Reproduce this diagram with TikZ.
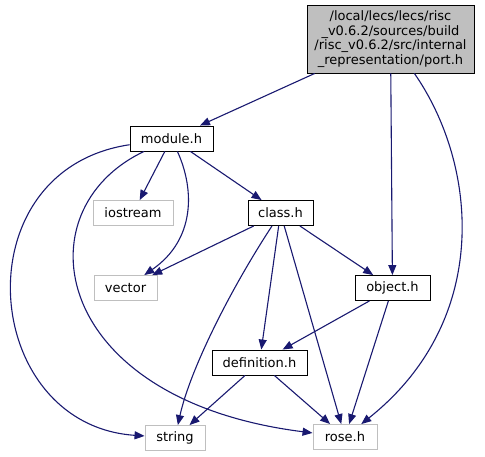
\documentclass[tikz,border=0pt]{standalone}
\usepackage{fontspec}
\setmainfont{DejaVu Sans}
\usetikzlibrary{arrows.meta}
\definecolor{edgeblue}{HTML}{191970}
\definecolor{boxgray}{HTML}{BFBFBF}

\begin{document}
\begin{tikzpicture}[x=1pt,y=-1pt,
                box/.style={draw=black,line width=0.9pt,minimum height=25pt,inner sep=1pt,font=\fontsize{13}{15}\selectfont},
                sys/.style={box,draw=boxgray},
                dep/.style={edgeblue,line width=1.1pt,-{Triangle[length=10pt,width=8pt]}}]
                \useasboundingbox (0,0) rectangle (485,456);
                \coordinate (P) at (390.5,39);
                \coordinate (M) at (171.5,138.5);
                \coordinate (C) at (280.5,213);
                \coordinate (O) at (392.5,288);
                \coordinate (D) at (259.5,362.5);
                \node[box,fill=boxgray,minimum width=167pt,minimum height=68pt,align=center,
                      font=\fontsize{13}{14.7}\selectfont] (port) at (P)
                      {/local/lecs/lecs/risc\\\_v0.6.2/sources/build\\/risc\_v0.6.2/src/internal\\\_representation/port.h};
                \node[box,minimum width=83pt] (module) at (M) {module.h};
                \node[sys,minimum width=80pt] (iostream) at (133,213) {iostream};
                \node[box,minimum width=65pt] (class) at (C) {class.h};
                \node[sys,minimum width=63pt] (vector) at (125.5,288) {vector};
                \node[box,minimum width=75pt] (object) at (O) {object.h};
                \node[box,minimum width=95pt] (definition) at (D) {definition.h};
                \node[sys,minimum width=60pt] (string) at (175,438) {string};
                \node[sys,minimum width=64pt] (rose) at (345,437) {rose.h};
                \draw[dep] (port)--(module);
                \draw[dep] (port)--(object);
                \draw[dep] (port) .. controls (478,165) and (492,320) .. (rose);
                \draw[dep] (module)--(iostream);
                \draw[dep] (module)--(class);
                \draw[dep] (module) .. controls (195,190) and (195,240) .. (vector);
                \draw[dep] (module) .. controls (-40,170) and (-20,425) .. (string);
                \draw[dep] (module) .. controls (20,210) and (50,400) .. (rose);
                \draw[dep] (class)--(vector);
                \draw[dep] (class)--(object);
                \draw[dep] (class)--(definition);
                \draw[dep] (class) .. controls (230,290) and (190,370) .. (string);
                \draw[dep] (class)--(rose);
                \draw[dep] (object)--(definition);
                \draw[dep] (object)--(rose);
                \draw[dep] (definition)--(string);
                \draw[dep] (definition)--(rose);
            \end{tikzpicture}
\end{document}
